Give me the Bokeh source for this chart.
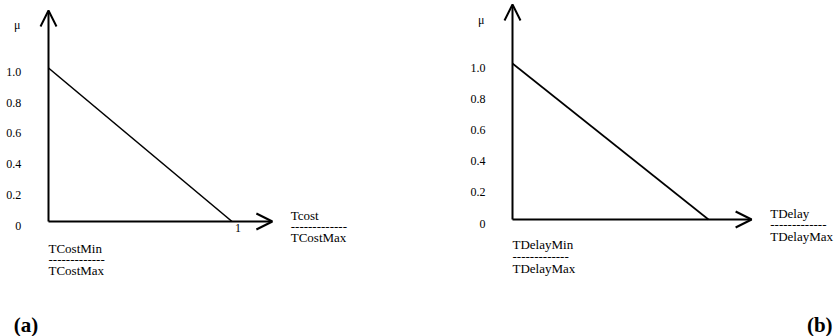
from bokeh.plotting import figure
from bokeh.layouts import row
from bokeh.models import Arrow, OpenHead, Range1d, Label, ColumnDataSource
from bokeh.core.properties import value
from bokeh.embed import file_html
from bokeh.resources import INLINE

# ---- data ----
tick_values = [0.0, 0.2, 0.4, 0.6, 0.8, 1.0]
tick_labels = ["0", "0.2", "0.4", "0.6", "0.8", "1.0"]
mu_x = [0.0, 1.0]          # normalized cost / delay
mu_y = [1.0, 0.0]          # membership value
panel_a = {"num": "Tcost", "den": "TCostMax", "min": "TCostMin", "tag": "(a)", "one": "1"}
panel_b = {"num": "TDelay", "den": "TDelayMax", "min": "TDelayMin", "tag": "(b)", "one": ""}
DASHES = "-------------"

FONT = "Liberation Serif"
H = 336


def make_panel(info, left_px, width_px, origin, unit, axis_end, tick_x, mu_pos,
               num_x, num_offs, min_offs, tag_pos, tag_align, one_off):
    ox, oy = origin
    ux, uy = unit
    x0 = (left_px - ox) / ux
    x1 = (left_px + width_px - ox) / ux
    y0 = (oy - H) / uy
    y1 = oy / uy
    p = figure(width=width_px, height=H, output_backend="svg", toolbar_location=None,
               x_range=Range1d(x0, x1), y_range=Range1d(y0, y1),
               x_axis_location=None, y_axis_location=None, min_border=0,
               outline_line_color=None, background_fill_color="white",
               border_fill_color="white")
    p.grid.visible = False

    # axes with open arrow heads
    p.add_layout(Arrow(end=OpenHead(size=16, line_width=2, line_color="black"),
                       x_start=0, y_start=0, x_end=0, y_end=axis_end[1],
                       line_width=2, line_color="black"))
    p.add_layout(Arrow(end=OpenHead(size=16, line_width=2, line_color="black"),
                       x_start=0, y_start=0, x_end=axis_end[0], y_end=0,
                       line_width=2, line_color="black"))

    # membership function
    p.line(mu_x, mu_y, line_width=1.6, line_color="black")

    # tick labels
    src = ColumnDataSource(dict(x=[tick_x] * len(tick_values), y=tick_values, t=tick_labels))
    p.text(x="x", y="y", text="t", source=src, text_font=value(FONT),
           text_font_size="12px", text_align="right", text_baseline="middle",
           y_offset=4, text_color="black")

    def lab(x, y, t, size="13px", align="left", xo=0, yo=0, style="normal"):
        p.add_layout(Label(x=x, y=y, text=t, text_font=FONT, text_font_size=size,
                           text_align=align, text_baseline="middle", x_offset=xo,
                           y_offset=yo, text_font_style=style, text_color="black"))

    lab(mu_pos[0], mu_pos[1], "\u03bc", size="12px", align="center")
    if info["one"]:
        lab(1.0, 0.0, info["one"], size="12px", align="center", xo=one_off[0], yo=-one_off[1])
    # x-axis name (fraction)
    lab(num_x, 0.0, info["num"], yo=-num_offs[0])
    lab(num_x, 0.0, DASHES, yo=-num_offs[1])
    lab(num_x, 0.0, info["den"], yo=-num_offs[2])
    # origin label (fraction)
    lab(0.0, 0.0, info["min"], yo=-min_offs[0])
    lab(0.0, 0.0, DASHES, yo=-min_offs[1])
    lab(0.0, 0.0, info["den"], yo=-min_offs[2])
    # panel tag
    lab(tag_pos[0], tag_pos[1], info["tag"], size="21px", align=tag_align, style="bold")
    return p


pa = make_panel(panel_a, 0, 455, origin=(48, 221), unit=(183.5, 153.5),
                axis_end=(1.22, 1.375), tick_x=-0.148, mu_pos=(-0.17, 1.28),
                num_x=1.32, num_offs=(-6, 5, 16), min_offs=(27, 38, 49),
                tag_pos=(-0.19, -0.6775), tag_align="left", one_off=(6, 6))
pb = make_panel(panel_b, 455, 380, origin=(512, 219), unit=(196, 156),
                axis_end=(1.22, 1.378), tick_x=-0.138, mu_pos=(-0.16, 1.276),
                num_x=1.315, num_offs=(-6, 5, 17), min_offs=(25, 37, 49),
                tag_pos=(1.633, -0.679), tag_align="right", one_off=(0, 0))

layout = row(pa, pb)
open("out.html", "w").write(file_html(layout, INLINE))
